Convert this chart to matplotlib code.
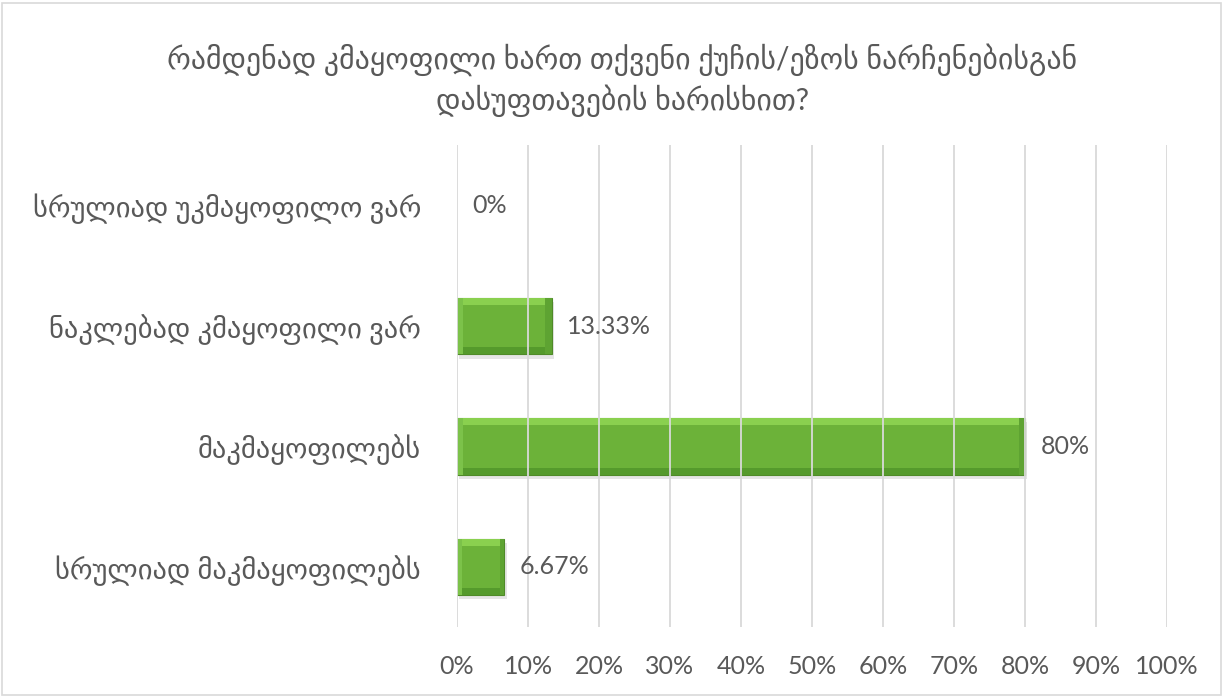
import numpy as np
import matplotlib.pyplot as plt
from matplotlib.patches import Rectangle

title = "რამდენად კმაყოფილი ხართ თქვენი ქუჩის/ეზოს ნარჩენებისგან\nდასუფთავების ხარისხით?"
categories = [
    "სრულიად მაკმაყოფილებს",
    "მაკმაყოფილებს",
    "ნაკლებად კმაყოფილი ვარ",
    "სრულიად უკმაყოფილო ვარ",
]
values = [6.67, 80.0, 13.33, 0.0]
value_labels = ["6.67%", "80%", "13.33%", "0%"]
xticks = list(range(0, 101, 10))

plt.rcParams["font.family"] = ["Lato", "DejaVu Sans"]
text_color = "#595959"

fig = plt.figure(figsize=(12.23, 6.96), dpi=100)
ax = fig.add_axes([0.3737, 0.099, 0.5805, 0.692])

y = np.arange(len(categories))
bar_h = 0.47

for yi, v in zip(y, values):
    if v <= 0:
        continue
    # soft shadow
    ax.add_patch(Rectangle((0.3, yi - bar_h / 2 - 0.035), v, bar_h,
                           facecolor="#000000", alpha=0.10, edgecolor="none", zorder=2))
    ax.barh(yi, v, height=bar_h, color="#6cb239", edgecolor="#4f8a28",
            linewidth=0.8, zorder=3)
    # bevel edges
    ax.add_patch(Rectangle((0, yi + bar_h / 2 - 0.06), v, 0.06,
                           facecolor="#8ad04f", edgecolor="none", zorder=4))
    ax.add_patch(Rectangle((0, yi - bar_h / 2), v, 0.06,
                           facecolor="#559a2c", edgecolor="none", zorder=4))
    ax.add_patch(Rectangle((v - min(0.9, v * 0.1), yi - bar_h / 2), min(0.9, v * 0.1), bar_h,
                           facecolor="#5ea332", edgecolor="none", zorder=4))
    ax.add_patch(Rectangle((0, yi - bar_h / 2), min(0.9, v * 0.1), bar_h,
                           facecolor="#7cc24a", edgecolor="none", zorder=4))

for yi, v, lab in zip(y, values, value_labels):
    ax.text(v + 2.2, yi, lab, va="center", ha="left", fontsize=18, color=text_color, zorder=7)

ax.set_xlim(0, 100)
ax.set_ylim(-0.5, len(categories) - 0.5)
ax.set_xticks(xticks)
ax.set_xticklabels([f"{t}%" for t in xticks], fontsize=18, color=text_color)
ax.set_yticks(y)
ax.set_yticklabels(categories, fontsize=20.5, color=text_color)
ax.tick_params(axis="both", length=0)
ax.tick_params(axis="x", pad=20)
ax.tick_params(axis="y", pad=26)

# gridlines sit over the bars, as in the original
ax.vlines(xticks, -0.5, len(categories) - 0.5, colors="#d9d9d9", linewidth=1.3, zorder=6)
for s in ax.spines.values():
    s.set_visible(False)

fig.text(0.509, 0.885, title, ha="center", va="center", fontsize=21.5,
         color=text_color, linespacing=1.35)

# outer chart border
fig.patches.append(Rectangle((0.002, 0.002), 0.996, 0.994, transform=fig.transFigure,
                             fill=False, edgecolor="#d9d9d9", linewidth=1.2))

fig.savefig("out.png", dpi=100)
